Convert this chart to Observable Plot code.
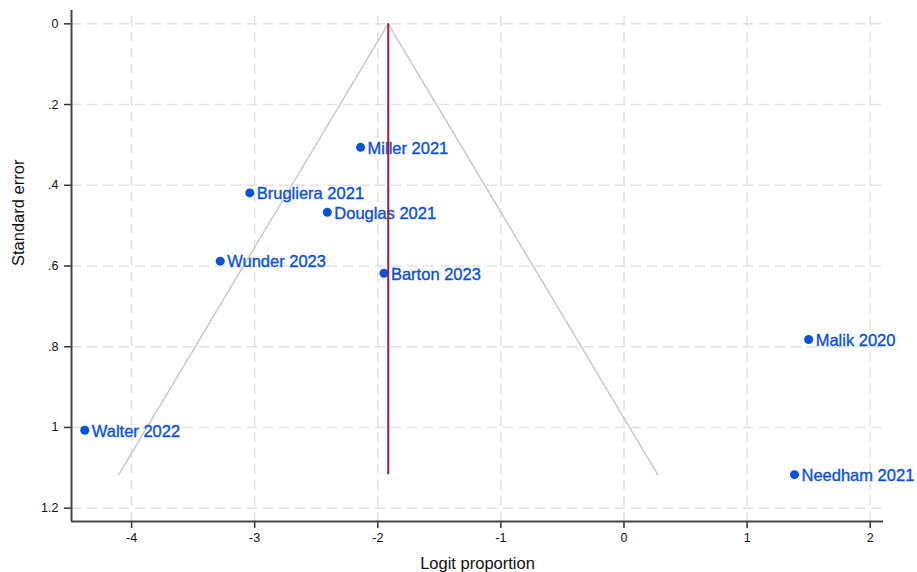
<!DOCTYPE html>
<html>
<head>
<meta charset="utf-8">
<script src="https://cdn.jsdelivr.net/npm/d3@7"></script>
<script src="https://cdn.jsdelivr.net/npm/@observablehq/plot@0.6"></script>
<style>
  html, body { margin: 0; padding: 0; background: #fff; }
</style>
</head>
<body>
<div id="chart"></div>
<script>
const studies = ["Miller 2021", "Brugliera 2021", "Douglas 2021", "Wunder 2023", "Barton 2023", "Walter 2022", "Malik 2020", "Needham 2021"];
const logitProp = [-2.14, -3.04, -2.41, -3.28, -1.95, -4.38, 1.50, 1.385];
const stdErr = [0.306, 0.419, 0.467, 0.588, 0.618, 1.007, 0.782, 1.117];
const pooled = -1.915;
const z = 1.96;
const xTicks = [-4, -3, -2, -1, 0, 1, 2];
const yTicks = [0, 0.2, 0.4, 0.6, 0.8, 1, 1.2];
const xDomain = [-4.488, 2.108];
const yDomain = [-0.033, 1.233];

const data = studies.map((s, i) => ({study: s, x: logitProp[i], se: stdErr[i]}));
const maxSE = d3.max(stdErr);
const funnel = [
  {x: pooled - z * maxSE, se: maxSE},
  {x: pooled, se: 0},
  {x: pooled + z * maxSE, se: maxSE}
];

const blue = "#0a50d8";
const gridStyle = {stroke: "#e2e2e2", strokeOpacity: 1, strokeWidth: 1.5, strokeDasharray: "10,6"};
const fmtY = d => d === 0 ? "0" : String(+d.toFixed(1)).replace(/^0\./, ".");

const chart = Plot.plot({
  width: 917,
  height: 572,
  marginLeft: 71,
  marginRight: 34,
  marginTop: 10,
  marginBottom: 51,
  style: {fontFamily: "'Liberation Sans', Arial, Helvetica, sans-serif", background: "#fff", color: "#111"},
  x: {domain: xDomain},
  y: {domain: yDomain, reverse: true},
  marks: [
    Plot.gridX(xTicks, {...gridStyle, insetTop: 6}),
    Plot.gridY(yTicks, {...gridStyle}),
    Plot.axisX(xTicks, {tickSize: 7, tickPadding: 5, tickFormat: d => String(d), fontSize: 12.5, stroke: "#333", strokeWidth: 1.5, label: null}),
    Plot.axisY(yTicks, {tickSize: 7, tickPadding: 6, tickFormat: fmtY, fontSize: 12.5, stroke: "#333", strokeWidth: 1.5, label: null}),
    Plot.ruleX([xDomain[0]], {stroke: "#444", strokeWidth: 2}),
    Plot.ruleY([yDomain[1]], {stroke: "#444", strokeWidth: 2}),
    Plot.line(funnel, {x: "x", y: "se", stroke: "#c9c9c9", strokeWidth: 1.5}),
    Plot.dot(data, {x: "x", y: "se", r: 4.5, fill: blue, stroke: "none"}),
    Plot.text(data, {x: "x", y: "se", text: "study", textAnchor: "start", dx: 7, dy: 1, fill: blue, stroke: blue, strokeWidth: 0.35, fontSize: 16.5, lineAnchor: "middle"}),
    Plot.ruleX([pooled], {y1: 0, y2: maxSE, stroke: "#a6192e", strokeWidth: 2}),
    Plot.text(["Logit proportion"], {frameAnchor: "bottom", dy: 42, text: d => d, fontSize: 16.5, fill: "#111", lineAnchor: "middle"}),
    Plot.text(["Standard error"], {frameAnchor: "left", dx: -53, text: d => d, rotate: -90, fontSize: 16.5, fill: "#111", lineAnchor: "middle"})
  ]
});
document.getElementById("chart").appendChild(chart);
</script>
</body>
</html>
